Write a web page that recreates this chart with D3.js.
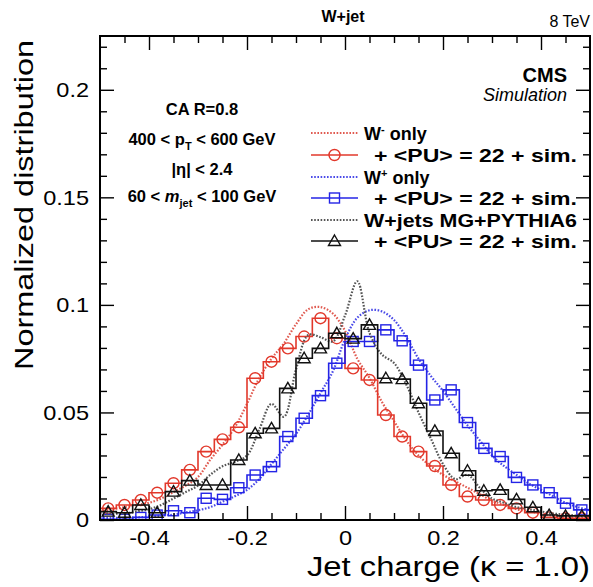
<!DOCTYPE html>
<html><head><meta charset="utf-8">
<script src="https://cdn.jsdelivr.net/npm/d3@7"></script>
<style>
body{margin:0;background:#fff}
text{font-family:"Liberation Sans",Arial,Helvetica,sans-serif;fill:#000}
</style>
</head><body>
<svg id="c" width="593" height="587"></svg>
<script>
// ---------------- data ----------------
const nBins = 30;                       // jet-charge bins over [-0.5, 0.5]
const xDomain = [-0.5, 0.5];
const yDomain = [0, 0.225];
const xMajorTicks = [-0.4, -0.2, 0, 0.2, 0.4];
const xTickLabels = ["-0.4", "-0.2", "0", "0.2", "0.4"];
const yMajorTicks = [0, 0.05, 0.1, 0.15, 0.2];
const yTickLabels = ["0", "0.05", "0.1", "0.15", "0.2"];

// histograms with pile-up + simulation (30 bins)
const wMinusPU = [0.0054,0.0070,0.0093,0.0127,0.0171,0.0233,0.0318,0.0375,0.0431,0.0659,
                  0.0736,0.0798,0.0853,0.0938,0.0845,0.0705,0.0651,0.0488,0.0388,0.0318,
                  0.0251,0.0163,0.0109,0.0093,0.0070,0.0054,0.0034,0.0012,0.0008,0.0008];
const wPlusPU  = [0.0003,0.0003,0.0012,0.0023,0.0043,0.0034,0.0101,0.0096,0.0150,0.0209,
                  0.0248,0.0388,0.0473,0.0578,0.0729,0.0830,0.0830,0.0884,0.0833,0.0720,
                  0.0558,0.0605,0.0453,0.0333,0.0295,0.0198,0.0163,0.0127,0.0078,0.0047];
const wJetsPU  = [0.0039,0.0034,0.0070,0.0034,0.0132,0.0183,0.0163,0.0163,0.0279,0.0403,
                  0.0426,0.0612,0.0752,0.0798,0.0868,0.0843,0.0907,0.0659,0.0655,0.0543,
                  0.0414,0.0310,0.0229,0.0136,0.0140,0.0096,0.0059,0.0023,0.0019,0.0019];

// generator-level curves, sampled every 0.025 from -0.5 to 0.5
const curveStep = 0.025;
const wMinusOnly = [0.004,0.005,0.006,0.007,0.008,0.010,0.013,0.016,0.020,0.028,
                    0.035,0.043,0.054,0.066,0.075,0.082,0.091,0.098,0.099,0.096,
                    0.088,0.075,0.066,0.055,0.046,0.037,0.030,0.025,0.021,0.018,
                    0.015,0.012,0.009,0.007,0.005,0.004,0.003,0.002,0.0012,0.001,0.0008];
const wPlusOnly  = [0.001,0.001,0.001,0.0012,0.0015,0.002,0.0025,0.0035,0.0045,0.006,
                    0.0085,0.011,0.014,0.019,0.026,0.033,0.040,0.049,0.059,0.069,
                    0.084,0.094,0.0975,0.097,0.093,0.085,0.075,0.067,0.060,0.052,
                    0.044,0.037,0.030,0.025,0.021,0.017,0.014,0.011,0.008,0.006,0.0045];
const wJetsMG    = [0.003,0.003,0.003,0.004,0.005,0.007,0.010,0.013,0.016,0.021,
                    0.025,0.027,0.030,0.042,0.054,0.048,0.070,0.086,0.085,0.083,
                    0.095,0.111,0.087,0.077,0.073,0.063,0.050,0.038,0.026,0.019,
                    0.021,0.015,0.010,0.008,0.006,0.005,0.004,0.003,0.0025,0.002,0.002];

const legendLabels = ["W|-| only", "+ <PU> = 22 + sim.", "W|+| only", "+ <PU> = 22 + sim.",
                      "W+jets MG+PYTHIA6", "+ <PU> = 22 + sim."];
const annotations = ["CA R=0.8", "400 < p_T < 600 GeV", "|η| < 2.4", "60 < m_jet < 100 GeV"];

// ---------------- layout ----------------
const L = 100, R = 590, T = 36, B = 520;
const RED = "#e2382b", BLUE = "#2424e6", BLACK = "#111";
const RED_D = "#e05a50", BLUE_D = "#4a4ae8", BLACK_D = "#555";

const svg = d3.select("#c");
const x = d3.scaleLinear().domain(xDomain).range([L, R]);
const y = d3.scaleLinear().domain(yDomain).range([B, T]);

function stretch(sel, f) {
  sel.each(function () {
    const w = this.getComputedTextLength();
    this.setAttribute("textLength", (w * f).toFixed(1));
    this.setAttribute("lengthAdjust", "spacingAndGlyphs");
  });
}

svg.append("defs").append("clipPath").attr("id", "clip")
  .append("rect").attr("x", L).attr("y", T).attr("width", R - L).attr("height", B - T);

const plot = svg.append("g").attr("clip-path", "url(#clip)");

const binW = (xDomain[1] - xDomain[0]) / nBins;
const binLo = d3.range(nBins).map(i => xDomain[0] + i * binW);
const gridX = d3.range(wMinusOnly.length).map(i => xDomain[0] + i * curveStep);

const smooth = d3.line().x(d => x(d[0])).y(d => y(d[1])).curve(d3.curveCatmullRom.alpha(0.5));
const step = d3.line().x(d => x(d[0])).y(d => y(d[1])).curve(d3.curveStepAfter);

function drawDotted(vals, color) {
  plot.append("path").datum(gridX.map((gx, i) => [gx, vals[i]]))
    .attr("d", smooth).attr("fill", "none").attr("stroke", color)
    .attr("stroke-width", 2.2).attr("stroke-dasharray", "1.6,1.6");
}
function marker(sel, type, color, cx, cy) {
  if (type === "circle") {
    sel.append("circle").attr("cx", cx).attr("cy", cy).attr("r", 5.5)
      .attr("fill", "none").attr("stroke", color).attr("stroke-width", 1.4);
  } else if (type === "square") {
    sel.append("rect").attr("x", cx - 5).attr("y", cy - 5).attr("width", 10).attr("height", 10)
      .attr("fill", "none").attr("stroke", color).attr("stroke-width", 1.4);
  } else {
    const s = 6;
    sel.append("path").attr("d", `M${cx},${cy - s}L${cx + s},${cy + s * 0.75}L${cx - s},${cy + s * 0.75}Z`)
      .attr("fill", "none").attr("stroke", color).attr("stroke-width", 1.4);
  }
}
function drawHist(vals, color, type) {
  const pts = binLo.map((lo, i) => [lo, vals[i]]);
  pts.push([xDomain[1], vals[nBins - 1]]);
  plot.append("path").datum(pts).attr("d", step).attr("fill", "none")
    .attr("stroke", color).attr("stroke-width", 1.6);
  const mg = plot.append("g");
  binLo.forEach((lo, i) => marker(mg, type, color, x(lo + binW / 2), y(vals[i])));
}

drawDotted(wMinusOnly, RED_D);
drawHist(wMinusPU, RED, "circle");
drawDotted(wPlusOnly, BLUE_D);
drawHist(wPlusPU, BLUE, "square");
drawDotted(wJetsMG, BLACK_D);
drawHist(wJetsPU, BLACK, "triangle");

// ---------------- axes ----------------
const xMinor = d3.range(-0.45, 0.46, 0.05).map(v => +v.toFixed(2)).filter(v => !xMajorTicks.some(m => Math.abs(m - v) < 1e-6));
const yMinor = d3.range(0.01, 0.225, 0.01).map(v => +v.toFixed(2)).filter(v => !yMajorTicks.some(m => Math.abs(m - v) < 1e-6));

function axisStyle(g) {
  g.select(".domain").remove();
  g.selectAll("line").attr("stroke", "#000").attr("stroke-width", 1.4);
}
// bottom
const gx = svg.append("g").attr("transform", `translate(0,${B})`)
  .call(d3.axisBottom(x).tickValues(xMajorTicks).tickFormat((d, i) => xTickLabels[i]).tickSize(-14).tickPadding(10))
  .call(axisStyle);
gx.selectAll("text").attr("font-size", 21).attr("font-family", "Liberation Sans, Arial, sans-serif").call(stretch, 1.12);
svg.append("g").attr("transform", `translate(0,${B})`)
  .call(d3.axisBottom(x).tickValues(xMinor).tickFormat("").tickSize(-7)).call(axisStyle);
// top
svg.append("g").attr("transform", `translate(0,${T})`)
  .call(d3.axisTop(x).tickValues(xMajorTicks).tickFormat("").tickSize(-14)).call(axisStyle);
svg.append("g").attr("transform", `translate(0,${T})`)
  .call(d3.axisTop(x).tickValues(xMinor).tickFormat("").tickSize(-7)).call(axisStyle);
// left
const gy = svg.append("g").attr("transform", `translate(${L},0)`)
  .call(d3.axisLeft(y).tickValues(yMajorTicks).tickFormat((d, i) => yTickLabels[i]).tickSize(-14).tickPadding(11))
  .call(axisStyle);
gy.selectAll("text").attr("font-size", 21).attr("font-family", "Liberation Sans, Arial, sans-serif").call(stretch, 1.12);
svg.append("g").attr("transform", `translate(${L},0)`)
  .call(d3.axisLeft(y).tickValues(yMinor).tickFormat("").tickSize(-7)).call(axisStyle);
// right
svg.append("g").attr("transform", `translate(${R},0)`)
  .call(d3.axisRight(y).tickValues(yMajorTicks).tickFormat("").tickSize(-14)).call(axisStyle);
svg.append("g").attr("transform", `translate(${R},0)`)
  .call(d3.axisRight(y).tickValues(yMinor).tickFormat("").tickSize(-7)).call(axisStyle);

// frame
svg.append("rect").attr("x", L).attr("y", T).attr("width", R - L).attr("height", B - T)
  .attr("fill", "none").attr("stroke", "#000").attr("stroke-width", 2);

// axis titles
svg.append("text").attr("x", 590).attr("y", 576).attr("text-anchor", "end")
  .attr("font-size", 27).text("Jet charge (κ = 1.0)").attr("textLength", 283).attr("lengthAdjust", "spacingAndGlyphs");
svg.append("text").attr("transform", "translate(33,205) rotate(-90)").attr("text-anchor", "middle")
  .attr("font-size", 25).text("Normalized distribution").attr("textLength", 330).attr("lengthAdjust", "spacingAndGlyphs");

// header texts
svg.append("text").attr("x", 343).attr("y", 22).attr("text-anchor", "middle")
  .attr("font-size", 16).attr("font-weight", "bold").text("W+jet");
svg.append("text").attr("x", 590).attr("y", 27).attr("text-anchor", "end")
  .attr("font-size", 16).text("8 TeV");
svg.append("text").attr("x", 567).attr("y", 82).attr("text-anchor", "end")
  .attr("font-size", 20).attr("font-weight", "bold").text("CMS");
svg.append("text").attr("x", 567).attr("y", 101).attr("text-anchor", "end")
  .attr("font-size", 18).attr("font-style", "italic").text("Simulation");

// annotation block
const annY = [115, 145, 175, 202];
annotations.forEach((a, i) => {
  const t = svg.append("text").attr("x", 202).attr("y", annY[i]).attr("text-anchor", "middle")
    .attr("font-size", 16.5).attr("font-weight", "bold");
  const m = a.match(/^(.*?)(p|m)_(\w+)(.*)$/);
  if (m) {
    t.append("tspan").text(m[1]);
    const v = t.append("tspan").text(m[2]);
    if (m[2] === "m") v.attr("font-style", "italic");
    t.append("tspan").attr("dy", 5).attr("font-size", 11).text(m[3]);
    t.append("tspan").attr("dy", -5).text(m[4]);
  } else t.text(a);
});

// legend
const legendY = [133, 155, 177, 198, 220, 241];
const legendStyle = [
  {c: RED_D, dotted: true}, {c: RED, m: "circle"},
  {c: BLUE_D, dotted: true}, {c: BLUE, m: "square"},
  {c: BLACK_D, dotted: true}, {c: BLACK, m: "triangle"}];
const lg = svg.append("g");
legendLabels.forEach((lab, i) => {
  const yy = legendY[i], st = legendStyle[i];
  const ln = lg.append("line").attr("x1", 311).attr("x2", 358).attr("y1", yy).attr("y2", yy)
    .attr("stroke", st.c).attr("stroke-width", st.dotted ? 2.2 : 1.6);
  if (st.dotted) ln.attr("stroke-dasharray", "1.6,1.6");
  else marker(lg, st.m, st.c, 334.5, yy);
  const t = lg.append("text").attr("y", yy + 6.5).attr("font-size", 18).attr("font-weight", "bold");
  const parts = lab.split("|");
  if (parts.length === 3) {
    t.attr("x", 364);
    t.append("tspan").text(parts[0]);
    t.append("tspan").attr("dy", -7).attr("font-size", 11).text(parts[1]);
    t.append("tspan").attr("dy", 7).text(parts[2]);
  } else if (lab.startsWith("+")) {
    t.attr("x", 374).text(lab).attr("textLength", 203).attr("lengthAdjust", "spacingAndGlyphs");
  } else {
    t.attr("x", 364).text(lab).attr("textLength", 213).attr("lengthAdjust", "spacingAndGlyphs");
  }
});
</script>
</body></html>
